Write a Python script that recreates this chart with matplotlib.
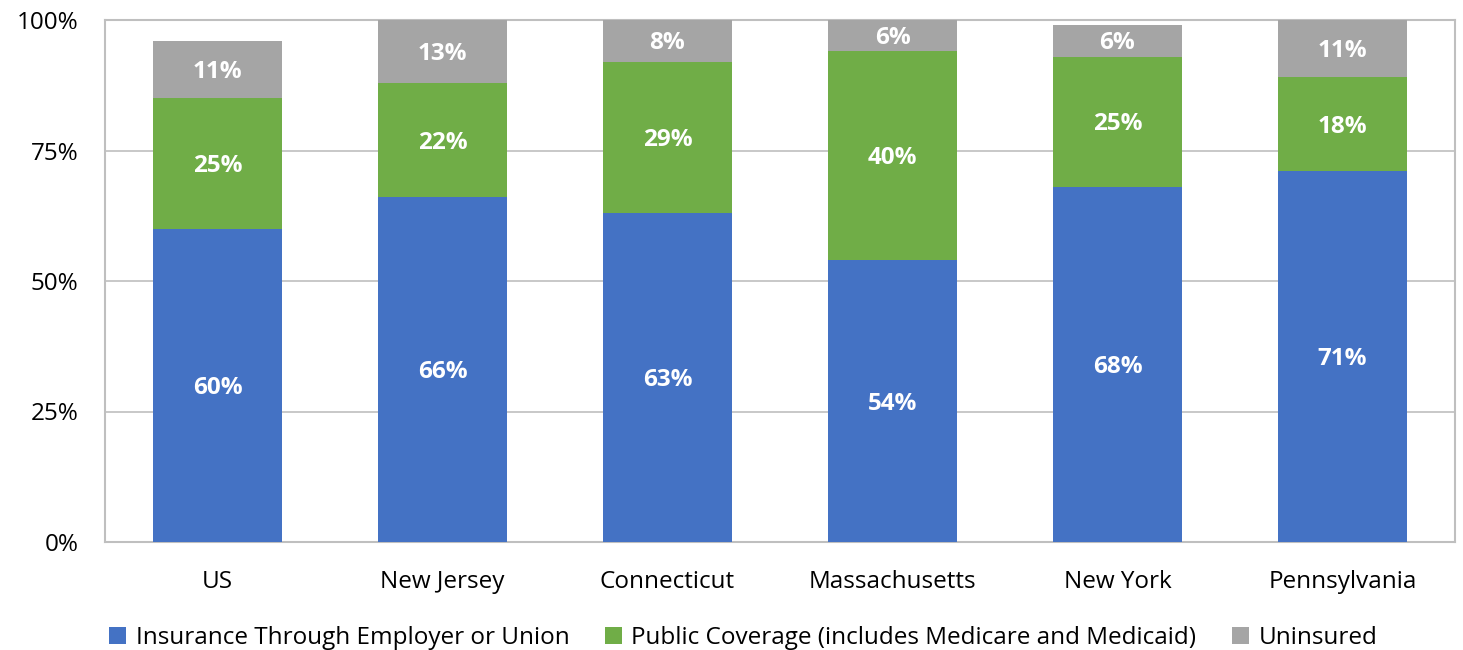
import matplotlib
matplotlib.use("Agg")
import matplotlib.pyplot as plt
from matplotlib.ticker import FixedLocator, FuncFormatter

categories = ["US", "New Jersey", "Connecticut", "Massachusetts", "New York", "Pennsylvania"]
employer = [60, 66, 63, 54, 68, 71]
public = [25, 22, 29, 40, 25, 18]
uninsured = [11, 13, 8, 6, 6, 11]
series_names = ["Insurance Through Employer or Union",
                "Public Coverage (includes Medicare and Medicaid)",
                "Uninsured"]
colors = ["#4472C4", "#70AD47", "#A5A5A5"]
yticks = [0, 25, 50, 75, 100]

plt.rcParams['font.family'] = ['Open Sans', 'DejaVu Sans']

fig = plt.figure(figsize=(14.63, 6.5), dpi=100)
ax = fig.add_axes([105/1463, 108/650, 1350/1463, 522/650])

x = list(range(len(categories)))
width = 0.573
bottoms = [0]*len(categories)
series = [employer, public, uninsured]
for vals, name, col in zip(series, series_names, colors):
    ax.bar(x, vals, width, bottom=bottoms, color=col, label=name, zorder=3)
    for xi, b, v in zip(x, bottoms, vals):
        top = min(b + v, 100)
        yc = (b + top) / 2
        ax.text(xi, yc - 0.5, f"{v}%", ha="center", va="center", color="white",
                fontsize=17.5, fontweight="bold", zorder=4)
    bottoms = [b + v for b, v in zip(bottoms, vals)]

ax.set_xlim(-0.5, len(categories) - 0.5)
ax.set_ylim(0, 100)
ax.yaxis.set_major_locator(FixedLocator(yticks))
ax.yaxis.set_major_formatter(FuncFormatter(lambda v, p: f"{int(v)}%"))
ax.set_xticks(x)
ax.set_xticklabels(categories)
ax.tick_params(axis="both", length=0, labelsize=17.5, colors="black")
ax.tick_params(axis="x", pad=20)
ax.tick_params(axis="y", pad=19)
ax.grid(axis="y", color="#BFBFBF", linewidth=1.2, zorder=0)
for s in ax.spines.values():
    s.set_color("#BFBFBF")
    s.set_linewidth(1.5)

fig.legend(loc="center", bbox_to_anchor=(743/1463, 12/650), ncol=3, frameon=False,
           fontsize=17.5, handlelength=0.7, handleheight=0.7, handletextpad=0.4,
           columnspacing=1.45)

fig.savefig("out.png", dpi=100)
